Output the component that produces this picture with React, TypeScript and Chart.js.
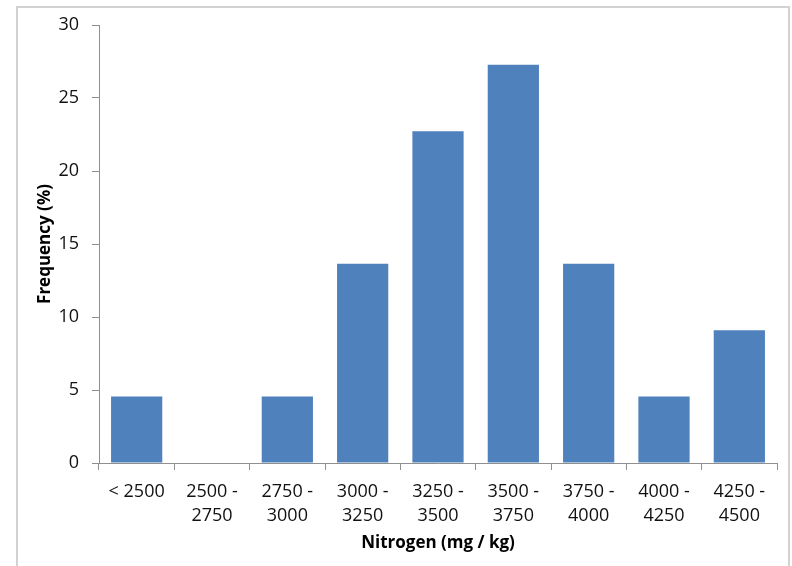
import React, { useEffect, useRef } from "react";
import { Chart, registerables } from "chart.js";

Chart.register(...registerables);

const categories: (string | string[])[] = [
  "< 2500",
  ["2500 -", "2750"],
  ["2750 -", "3000"],
  ["3000 -", "3250"],
  ["3250 -", "3500"],
  ["3500 -", "3750"],
  ["3750 -", "4000"],
  ["4000 -", "4250"],
  ["4250 -", "4500"],
];
const frequency: number[] = [4.55, 0, 4.55, 13.64, 22.73, 27.27, 13.64, 4.55, 9.09];
const xTitle = "Nitrogen (mg / kg)";
const yTitle = "Frequency (%)";

const FONT = "'Open Sans', 'Noto Sans', sans-serif";
const AXIS = "#8f8f8f";

export default function App() {
  const ref = useRef<HTMLCanvasElement | null>(null);
  useEffect(() => {
    document.body.style.margin = "0";
    const chart = new Chart(ref.current!, {
      type: "bar",
      data: {
        labels: categories,
        datasets: [
          {
            data: frequency,
            backgroundColor: "#4F81BD",
            borderWidth: 0,
            barPercentage: 1,
            categoryPercentage: 0.68,
          },
        ],
      },
      options: {
        animation: false,
        responsive: false,
        maintainAspectRatio: false,
        layout: { padding: { left: 0, top: 25, right: 15, bottom: 0 } },
        plugins: { legend: { display: false }, tooltip: { enabled: false } },
        scales: {
          x: {
            afterFit: (s: any) => {
              s.height = 103;
            },
            grid: {
              offset: true,
              drawOnChartArea: false,
              drawTicks: true,
              tickLength: 7,
              color: AXIS,
            },
            border: { display: true, color: AXIS, width: 1 },
            ticks: {
              color: "#111",
              font: { family: FONT, size: 18, lineHeight: 1.38 },
              padding: 9,
              maxRotation: 0,
              autoSkip: false,
            },
            title: {
              display: true,
              text: xTitle,
              color: "#000",
              font: { family: FONT, size: 17, weight: "bold" },
              padding: { top: 0, bottom: 13 },
            },
          },
          y: {
            min: 0,
            max: 30,
            afterFit: (s: any) => {
              s.width = 99;
            },
            grid: {
              drawOnChartArea: false,
              drawTicks: true,
              tickLength: 7,
              color: AXIS,
            },
            border: { display: true, color: AXIS, width: 1 },
            ticks: {
              stepSize: 5,
              color: "#111",
              font: { family: FONT, size: 18 },
              padding: 13,
            },
            title: {
              display: true,
              text: yTitle,
              color: "#000",
              font: { family: FONT, size: 17, weight: "bold" },
              padding: { top: 35, bottom: 0 },
            },
          },
        },
      },
    });
    return () => chart.destroy();
  }, []);
  return (
    <div style={{ position: "fixed", left: 0, top: 0, width: 792, height: 566, background: "#fff", overflow: "hidden" }}>
      <div
        style={{
          position: "absolute",
          left: 16,
          top: 6,
          width: 770,
          height: 600,
          border: "2px solid #d2d2d2",
          borderBottom: "none",
        }}
      />
      <canvas ref={ref} width={792} height={566} style={{ position: "absolute", left: 0, top: 0 }} />
    </div>
  );
}
